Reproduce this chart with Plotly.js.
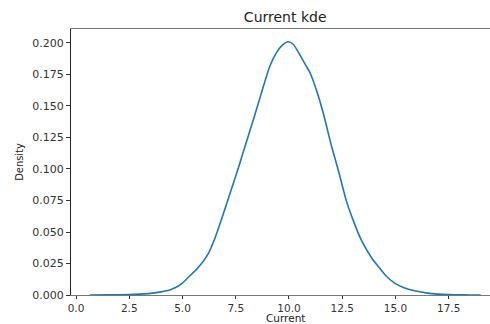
<!DOCTYPE html>
<html>
<head>
<meta charset="utf-8">
<script src="https://cdn.plot.ly/plotly-3.0.1.min.js"></script>
<style>
  html, body { margin: 0; padding: 0; background: #fff; }
  #chart { width: 490px; height: 324px; }
</style>
</head>
<body>
<div id="chart"></div>
<script>
// Kernel density estimate of the "Current" readings
const current = [0.66, 1.5, 2.5, 3.0, 3.5, 4.0, 4.4, 4.7, 5.0, 5.3, 5.7, 6.2, 6.5, 6.85, 7.2, 7.6, 8.0, 8.4, 8.7, 9.1, 9.4, 9.7, 9.95, 10.2, 10.5, 10.8, 11.0, 11.3, 11.6, 12.0, 12.3, 12.7, 13.0, 13.4, 13.9, 14.3, 14.6, 15.0, 15.4, 15.9, 16.5, 17.0, 17.5, 18.0, 18.5, 19.0];
const density = [0.0000, 0.0001, 0.0003, 0.0007, 0.0013, 0.0025, 0.0040, 0.0062, 0.0095, 0.0145, 0.0210, 0.0325, 0.0440, 0.0610, 0.0790, 0.0995, 0.1215, 0.1430, 0.1600, 0.1815, 0.1920, 0.1985, 0.2010, 0.1990, 0.1910, 0.1820, 0.1760, 0.1620, 0.1450, 0.1180, 0.1000, 0.0745, 0.0600, 0.0435, 0.0290, 0.0205, 0.0145, 0.0090, 0.0058, 0.0034, 0.0015, 0.0007, 0.0003, 0.0001, 0.00003, 0.0000];

const xTicks = [0, 2.5, 5, 7.5, 10, 12.5, 15, 17.5];
const xTickText = ["0.0", "2.5", "5.0", "7.5", "10.0", "12.5", "15.0", "17.5"];
const yTicks = [0, 0.025, 0.05, 0.075, 0.1, 0.125, 0.15, 0.175, 0.2];
const yTickText = ["0.000", "0.025", "0.050", "0.075", "0.100", "0.125", "0.150", "0.175", "0.200"];

const trace = {
  x: current,
  y: density,
  type: 'scatter',
  mode: 'lines',
  line: { color: '#1f77b4', width: 1.6, shape: 'spline', smoothing: 0.6 },
  hoverinfo: 'x+y'
};

const layout = {
  width: 490,
  height: 324,
  paper_bgcolor: '#ffffff',
  plot_bgcolor: '#ffffff',
  margin: { l: 71, r: 0, t: 29, b: 29 },
  showlegend: false,
  font: { family: 'DejaVu Sans, sans-serif', color: '#333' },
  title: {
    text: 'Current kde',
    font: { size: 14, color: '#222', family: 'DejaVu Sans, sans-serif' },
    xref: 'container', x: 0.582, xanchor: 'center',
    yref: 'container', y: 1 - 17 / 324, yanchor: 'middle'
  },
  xaxis: {
    range: [-0.235, 19.44],
    tickmode: 'array',
    tickvals: xTicks,
    ticktext: xTickText,
    ticks: 'outside',
    ticklen: 3,
    tickwidth: 1,
    tickcolor: '#333',
    tickfont: { size: 10.5, color: '#333' },
    showgrid: false,
    zeroline: false,
    showline: true,
    linecolor: '#777',
    linewidth: 1,
    mirror: true
  },
  yaxis: {
    range: [0, 0.2111],
    tickmode: 'array',
    tickvals: yTicks,
    ticktext: yTickText,
    ticks: 'outside',
    ticklen: 4,
    tickwidth: 1,
    tickcolor: '#333',
    tickfont: { size: 11, color: '#333' },
    showgrid: false,
    zeroline: false,
    showline: true,
    linecolor: '#222',
    linewidth: 1,
    title: { text: 'Density', font: { size: 11, color: '#222', family: 'DejaVu Sans Condensed, DejaVu Sans, sans-serif' }, standoff: 6 }
  },
  // x-axis label placed just below the tick labels
  annotations: [{
    text: 'Current',
    xref: 'paper', x: (285 - 71) / 419, xanchor: 'center',
    yref: 'paper', y: -(324.5 - 295) / 266, yanchor: 'bottom',
    borderpad: 0,
    showarrow: false,
    font: { size: 10.5, color: '#222', family: 'DejaVu Sans, sans-serif' }
  }]
};

Plotly.newPlot('chart', [trace], layout, { displayModeBar: false, staticPlot: true });
</script>
</body>
</html>
